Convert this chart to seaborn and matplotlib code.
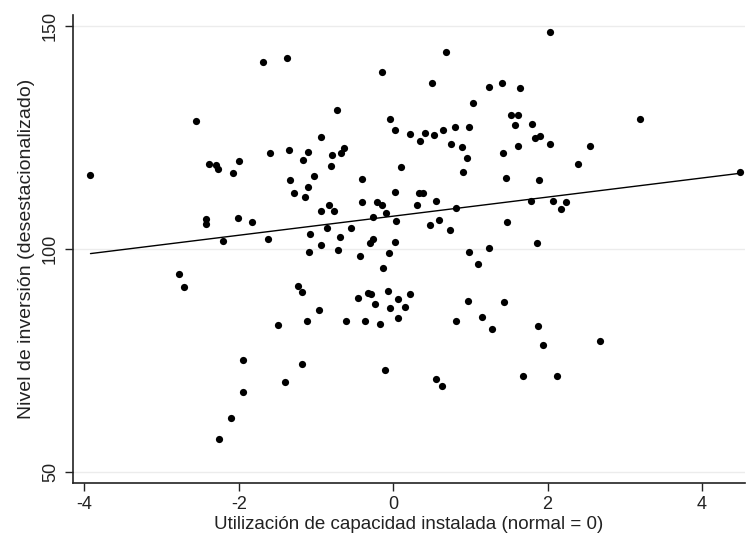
import pandas as pd
import matplotlib
matplotlib.use("Agg")
import matplotlib.pyplot as plt
import seaborn as sns

# Capacity utilisation (normal = 0) vs. seasonally adjusted investment level
capacidad = [
    -3.92, -2.56, -1.68, -1.37, -2.39, -2.29, -2.27, -2.00, -2.07, -1.59,
    -1.35, -1.17, -1.10, -1.34, -1.29, -1.14, -1.10, -1.03, -2.42, -2.43,
    -2.01, -1.83, -2.20, -1.62, -1.08, -1.09, -2.78, -2.71, -1.23, -1.18,
    -1.12, -1.49, -1.95, -1.95, -2.10, -2.25, -1.40, -1.18, 0.69, -0.14,
    0.50, 1.24, 1.41, 1.64, 1.03, -0.73, -0.04, 0.02, 0.22, 0.35,
    0.41, 0.53, 0.64, 0.80, 0.98, 0.75, 0.89, 0.95, 0.90, 1.53,
    1.62, 1.58, 1.80, 1.84, 1.90, 1.62, 1.42, 1.46, -0.93, -0.79,
    -0.68, -0.64, -0.80, -0.41, 0.10, 2.03, 2.03, 2.55, 2.39, 3.20,
    4.49, 1.89, 0.03, 0.33, 0.39, -0.41, -0.21, -0.15, -0.83, -0.93,
    -0.77, -0.09, 0.31, 0.55, 0.81, 1.78, -0.26, 0.04, -0.86, -0.54,
    0.48, 0.60, 0.74, 1.48, -0.69, -0.94, -0.30, -0.26, 0.03, -0.71,
    -0.43, -0.06, -0.13, 0.98, 1.24, 1.10, 1.86, -0.46, -0.32, -0.29,
    -0.07, 0.06, 0.22, -0.23, -0.04, 0.15, -0.96, -0.61, -0.36, -0.17,
    0.06, 0.81, 0.97, 1.15, 1.28, 1.43, 1.87, 2.07, 2.24, 2.18,
    -0.10, 0.55, 0.63, 1.68, 1.94, 2.68, 2.12,
]
inversion = [
    116.7, 128.7, 142.0, 142.9, 119.0, 118.8, 118.0, 119.7, 117.0, 121.5,
    122.2, 120.0, 121.8, 115.5, 112.7, 111.7, 114.0, 116.5, 106.7, 105.6,
    106.9, 106.1, 101.8, 102.2, 103.3, 99.4, 94.3, 91.4, 91.7, 90.4,
    83.8, 83.0, 75.2, 68.0, 62.2, 57.3, 70.1, 74.1, 144.2, 139.7,
    137.3, 136.4, 137.3, 136.2, 132.9, 131.3, 129.1, 126.7, 125.9, 124.3,
    126.0, 125.6, 126.7, 127.4, 127.4, 123.6, 123.0, 120.5, 117.3, 130.0,
    130.2, 127.8, 128.1, 125.0, 125.4, 123.1, 121.6, 116.0, 125.1, 121.2,
    121.6, 122.6, 118.7, 115.8, 118.4, 148.7, 123.5, 123.1, 119.1, 129.3,
    117.4, 115.4, 112.9, 112.5, 112.5, 110.5, 110.6, 109.9, 109.9, 108.6,
    108.6, 108.2, 109.8, 110.9, 109.2, 110.9, 107.3, 106.3, 104.8, 104.8,
    105.5, 106.5, 104.2, 106.0, 102.8, 101.0, 101.3, 102.2, 101.6, 99.9,
    98.4, 99.2, 95.8, 99.3, 100.3, 96.7, 101.3, 89.1, 90.2, 90.0,
    90.7, 88.8, 90.0, 87.6, 86.7, 87.0, 86.3, 83.9, 83.9, 83.2,
    84.6, 83.8, 88.4, 84.7, 82.1, 88.2, 82.7, 110.8, 110.6, 109.0,
    72.9, 70.8, 69.3, 71.5, 78.5, 79.4, 71.6,
]

x_ticks = [-4, -2, 0, 2, 4]
y_ticks = [50, 100, 150]

df = pd.DataFrame({"capacidad": capacidad, "inversion": inversion})

sns.set_style("white")
plt.rcParams["font.family"] = ["Liberation Sans", "DejaVu Sans"]
plt.rcParams["axes.unicode_minus"] = False

fig = plt.figure(figsize=(7.46, 5.42), dpi=100)
ax = fig.add_axes([0.0975, 0.108, 0.9015, 0.864])

sns.regplot(data=df, x="capacidad", y="inversion", ci=None, ax=ax,
            scatter_kws={"s": 27, "color": "black", "linewidths": 0, "alpha": 1},
            line_kws={"color": "black", "linewidth": 1})

ax.set_xlim(-4.15, 4.56)
ax.set_ylim(47.4, 152.5)
ax.set_xticks(x_ticks)
ax.set_yticks(y_ticks)
ax.set_yticklabels([str(v) for v in y_ticks], rotation=90, va="center")
ax.yaxis.grid(True, color="#ececec", linewidth=1)
ax.xaxis.grid(False)
ax.set_axisbelow(True)

for side in ["top", "right"]:
    ax.spines[side].set_visible(False)
for side in ["left", "bottom"]:
    ax.spines[side].set_color("#222222")
    ax.spines[side].set_linewidth(1.2)

ax.tick_params(axis="both", direction="out", length=6, width=1, color="#222222",
               labelsize=13, labelcolor="#222222", left=True, bottom=True)
ax.tick_params(axis="x", pad=3)
ax.tick_params(axis="y", pad=4)

ax.set_xlabel("Utilización de capacidad instalada (normal = 0)", fontsize=13.5,
              color="#222222", labelpad=2)
ax.set_ylabel("Nivel de inversión (desestacionalizado)", fontsize=14,
              color="#222222", labelpad=5)

fig.savefig("out.png", dpi=100)
